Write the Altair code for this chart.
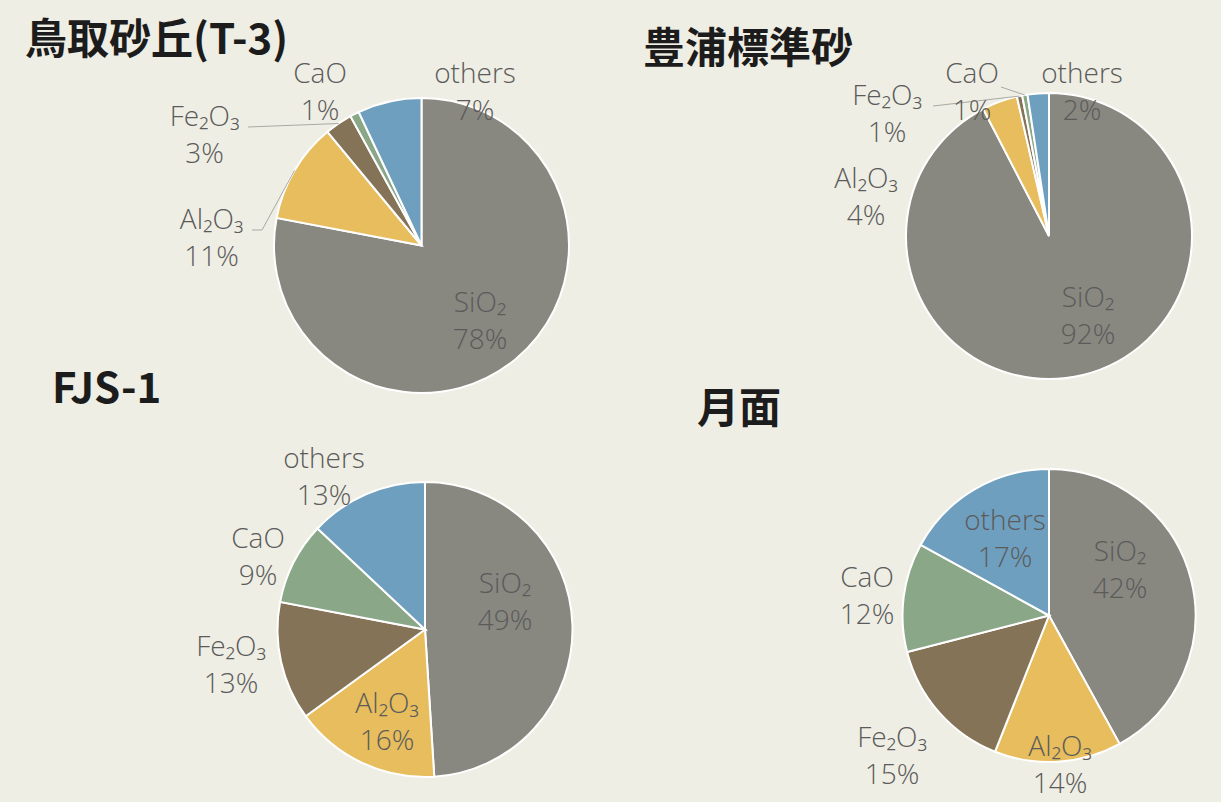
import math
import altair as alt
import pandas as pd

# ---------------- data ----------------
SAMPLES = ["鳥取砂丘(T-3)", "豊浦標準砂", "FJS-1", "月面"]
COMPONENTS = ["SiO₂", "Al₂O₃", "Fe₂O₃", "CaO", "others"]
T3 = [78, 11, 3, 1, 7]
TOYOURA = [92.3, 4.0, 0.6, 0.6, 2.4]
FJS1 = [49, 16, 13, 9, 13]
LUNAR = [42, 14, 15, 12, 17]
VALUES = {SAMPLES[0]: T3, SAMPLES[1]: TOYOURA, SAMPLES[2]: FJS1, SAMPLES[3]: LUNAR}

COLORS = ["#888881", "#e7bd5d", "#857358", "#8aa888", "#6f9fbf"]

# ---------------- layout ----------------
W, H = 1221, 802
BG = "#efeee4"
LINE_H = 37
PIES = {  # centre x, centre y, radius (px)
    SAMPLES[0]: (421.5, 245.5, 147.5),
    SAMPLES[1]: (1049, 236, 143),
    SAMPLES[2]: (425, 629.5, 147.5),
    SAMPLES[3]: (1049, 615.5, 146.5),
}
TITLE_POS = {
    SAMPLES[0]: (25, 41),
    SAMPLES[1]: (643, 50),
    SAMPLES[2]: (52, 390),
    SAMPLES[3]: (697, 410),
}
# label block centre, offset from pie centre (px)
LABEL_OFFSETS = {
    SAMPLES[0]: [(58.5, 76.5), (-210, -6.5), (-217, -109.5), (-101.5, -152.5), (53.5, -152.5)],
    SAMPLES[1]: [(39, 81), (-183, -38), (-162, -121), (-77, -143), (33, -143)],
    SAMPLES[2]: [(80, -26.5), (-38, 93.5), (-194, 36.5), (-167, -71.5), (-101, -151.5)],
    SAMPLES[3]: [(71, -44.5), (11, 150.5), (-157, 141.5), (-182, -18.5), (-44, -75.5)],
}
# leader lines: label-side points (px); the slice end is derived from the data
LEADERS = [
    (SAMPLES[0], "Al₂O₃", [(252, 230), (262, 230)]),
    (SAMPLES[0], "Fe₂O₃", [(248, 127)]),
    (SAMPLES[1], "Fe₂O₃", [(933, 106)]),
    (SAMPLES[1], "CaO", [(1001, 87)]),
]

# ---------------- tables ----------------
slice_rows, label_rows = [], []
for s in SAMPLES:
    cx, cy, r = PIES[s]
    for i, (c, v) in enumerate(zip(COMPONENTS, VALUES[s])):
        slice_rows.append({"sample": s, "component": c, "idx": i, "pct": v})
        dx, dy = LABEL_OFFSETS[s][i]
        label_rows.append({
            "sample": s, "component": c,
            "text": f"{c}\n{round(v):.0f}%",
            "lx": cx + dx, "ly": cy + dy - LINE_H / 2,  # first line sits half a line above the block centre
        })
slices = pd.DataFrame(slice_rows)
labels = pd.DataFrame(label_rows)

leader_rows = []
for lid, (s, comp, pts) in enumerate(LEADERS):
    cx, cy, r = PIES[s]
    vals = VALUES[s]
    k = COMPONENTS.index(comp)
    total = sum(vals)
    mid = (sum(vals[:k]) + vals[k] / 2) / total * 2 * math.pi
    rim = (cx + r * math.sin(mid), cy - r * math.cos(mid))
    for j, (x, y) in enumerate(pts + [rim]):
        leader_rows.append({"lid": lid, "pt": j, "x": x, "y": y})
leaders = pd.DataFrame(leader_rows)

titles = pd.DataFrame({
    "title": SAMPLES,
    "tx": [TITLE_POS[s][0] for s in SAMPLES],
    "ty": [TITLE_POS[s][1] for s in SAMPLES],
})

color = alt.Color("component:N", scale=alt.Scale(domain=COMPONENTS, range=COLORS), legend=None)

layers = []
for s in SAMPLES:
    cx, cy, r = PIES[s]
    pie = (
        alt.Chart(slices)
        .transform_filter(alt.datum.sample == s)
        .mark_arc(outerRadius=r, stroke="white", strokeWidth=2)
        .encode(
            x=alt.value(cx),
            y=alt.value(cy),
            theta=alt.Theta("pct:Q", stack=True),
            color=color,
            order=alt.Order("idx:Q"),
        )
    )
    layers.append(pie)

leader_layer = (
    alt.Chart(leaders)
    .mark_line(color="#a9a9a4", strokeWidth=1)
    .encode(
        x=alt.X("x:Q", scale=None),
        y=alt.Y("y:Q", scale=None),
        detail="lid:N",
        order="pt:Q",
    )
)

label_layer = (
    alt.Chart(labels)
    .mark_text(
        lineBreak="\n", align="center", baseline="middle",
        font="Open Sans", fontSize=28, fontWeight=300, lineHeight=LINE_H, color="#5b5b5b",
    )
    .encode(
        x=alt.X("lx:Q", scale=None),
        y=alt.Y("ly:Q", scale=None),
        text="text:N",
    )
)

title_layer = (
    alt.Chart(titles)
    .mark_text(
        align="left", baseline="middle",
        font="Noto Sans CJK JP", fontSize=42, fontWeight="bold", color="#1c1c1c",
    )
    .encode(
        x=alt.X("tx:Q", scale=None),
        y=alt.Y("ty:Q", scale=None),
        text="title:N",
    )
)

chart = (
    alt.layer(*layers, leader_layer, label_layer, title_layer)
    .resolve_scale(theta="independent")
    .properties(width=W, height=H, autosize=alt.AutoSizeParams(type="none"), padding=0, background=BG)
    .configure_view(stroke=None)
)

chart.save("out.html", embed_options={"renderer": "svg", "actions": False})
